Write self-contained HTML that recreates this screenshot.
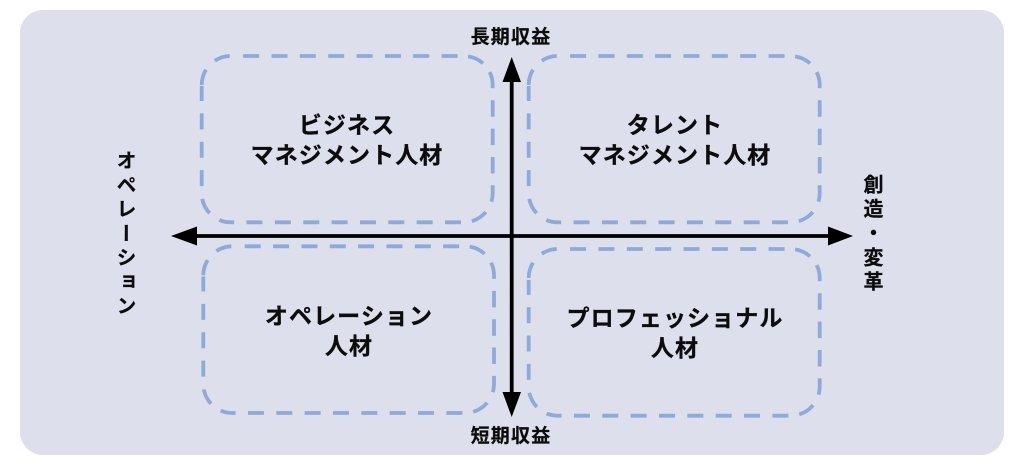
<!DOCTYPE html>
<html lang="ja">
<head>
<meta charset="utf-8">
<style>
html,body{margin:0;padding:0;background:#fff;}
#c{position:relative;width:1024px;height:469px;overflow:hidden;background:#fff;font-family:"Liberation Sans","Noto Sans CJK JP",sans-serif;color:#0c0c0c;font-weight:700;}
#p{position:absolute;left:20px;top:10px;width:984px;height:445px;border-radius:23px;background:#dedfec;}
svg{position:absolute;left:0;top:0;}
.t{position:absolute;text-align:center;font-size:23px;line-height:30px;letter-spacing:1.100px;white-space:nowrap;-webkit-text-stroke:0.3px #0c0c0c;}
.l{position:absolute;text-align:center;font-size:19px;line-height:24px;letter-spacing:1.200px;white-space:nowrap;-webkit-text-stroke:0.2px #0c0c0c;}
.v{position:absolute;writing-mode:vertical-rl;font-size:20px;line-height:24px;letter-spacing:4.250px;white-space:nowrap;-webkit-text-stroke:0.2px #0c0c0c;}
</style>
</head>
<body>
<div id="c">
<div id="p"></div>
<svg width="1024" height="469" viewBox="0 0 1024 469">
<g fill="none" stroke="#8fa9d8" stroke-width="3.8" stroke-dasharray="16 12.7 15.8 13.4 16 12.35 16 12.35 16 12.35 16 12.35 16 12.35 16 12.35 16 12.35 16 10.55 16.7 11 16.6 12 16.5 11.85 16.5 11.85 16.5 11.85 16.5 11.9 16.8 11 16 12.35 16 12.35 16 12.35 16 12.35 16 12.35 16 12.35 16 12.35 16 12.35 15.2 11.9 16.2 12.9 16 12.35 16 12.35 16 12.35 15 50">
<path d="M201.700 85 A29 29 0 0 1 230.700 56 H463.700 A29 29 0 0 1 492.700 85 V193.300 A29 29 0 0 1 463.700 222.300 H230.700 A29 29 0 0 1 201.700 193.300 Z"/>
<path d="M528.700 85 A29 29 0 0 1 557.700 56 H790.700 A29 29 0 0 1 819.700 85 V193.300 A29 29 0 0 1 790.700 222.300 H557.700 A29 29 0 0 1 528.700 193.300 Z"/>
<path d="M203.300 275.300 A29 29 0 0 1 232.300 246.300 H465 A29 29 0 0 1 494 275.300 V384 A29 29 0 0 1 465 413 H232.300 A29 29 0 0 1 203.300 384 Z"/>
<path d="M528.700 278 A29 29 0 0 1 557.700 249 H790.700 A29 29 0 0 1 819.700 278 V386.700 A29 29 0 0 1 790.700 415.700 H557.700 A29 29 0 0 1 528.700 386.700 Z"/>
</g>
<g stroke="#000" stroke-width="3.8" fill="none">
<line x1="511.700" y1="80" x2="511.700" y2="394"/>
<line x1="195" y1="236" x2="830" y2="236"/>
</g>
<g fill="#000">
<polygon points="511.700,57 502.500,82 521,82"/>
<polygon points="511.700,417 502.500,392 521,392"/>
<polygon points="171,236 197,226.500 197,245.500"/>
<polygon points="853,236 828,226.500 828,245.500"/>
</g>
</svg>
<div class="t" style="left:202px;width:290px;top:110px;">ビジネス<br>マネジメント人材</div>
<div class="t" style="left:530px;width:290px;top:110px;">タレント<br>マネジメント人材</div>
<div class="t" style="left:204px;width:290px;top:301px;">オペレーション<br>人材</div>
<div class="t" style="left:530px;width:290px;top:303px;">プロフェッショナル<br>人材</div>
<div class="l" style="left:411px;width:200px;top:26px;">長期収益</div>
<div class="l" style="left:411px;width:200px;top:425px;">短期収益</div>
<div class="v" style="left:112px;top:150px;">オペレーション</div>
<div class="v" style="left:859px;top:174px;">創造・変革</div>
</div>
</body>
</html>
